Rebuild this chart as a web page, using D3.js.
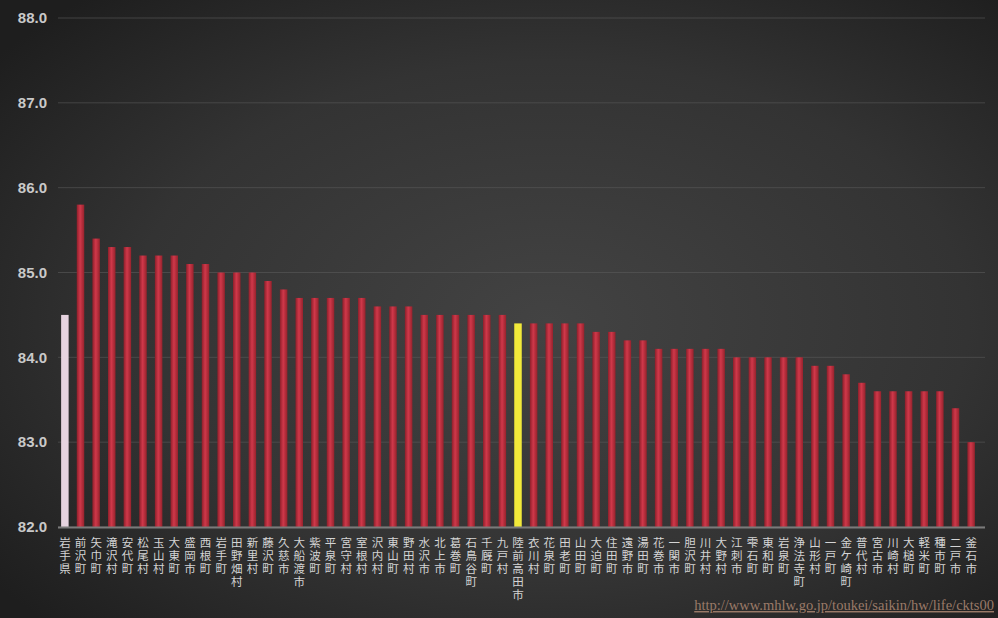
<!DOCTYPE html>
<html><head><meta charset="utf-8">
<script src="https://cdn.jsdelivr.net/npm/d3@7"></script>
<style>html,body{margin:0;padding:0;background:#2a2a2a;}svg{display:block;}</style>
</head><body>
<svg id="chart" width="998" height="618"></svg>
<script>
const categories = ["岩手県","前沢町","矢巾町","滝沢村","安代町","松尾村","玉山村","大東町","盛岡市","西根町",
"岩手町","田野畑村","新里村","藤沢町","久慈市","大船渡市","紫波町","平泉町","宮守村","室根村",
"沢内村","東山町","野田村","水沢市","北上市","葛巻町","石鳥谷町","千厩町","九戸村","陸前高田市",
"衣川村","花泉町","田老町","山田町","大迫町","住田町","遠野市","湯田町","花巻市","一関市",
"胆沢町","川井村","大野村","江刺市","雫石町","東和町","岩泉町","浄法寺町","山形村","一戸町",
"金ケ崎町","普代村","宮古市","川崎村","大槌町","軽米町","種市町","二戸市","釜石市"];
const values = [84.5,85.8,85.4,85.3,85.3,85.2,85.2,85.2,85.1,85.1,
85.0,85.0,85.0,84.9,84.8,84.7,84.7,84.7,84.7,84.7,
84.6,84.6,84.6,84.5,84.5,84.5,84.5,84.5,84.5,84.4,
84.4,84.4,84.4,84.4,84.3,84.3,84.2,84.2,84.1,84.1,
84.1,84.1,84.1,84.0,84.0,84.0,84.0,84.0,83.9,83.9,
83.8,83.7,83.6,83.6,83.6,83.6,83.6,83.4,83.0];
const highlightPref = "岩手県";
const highlightCity = "陸前高田市";
const yTicks = [82,83,84,85,86,87,88];
const sourceText = "http://www.mhlw.go.jp/toukei/saikin/hw/life/ckts00";

const svg = d3.select("#chart");
const W = 998, H = 618;
const defs = svg.append("defs");
const bg = defs.append("radialGradient").attr("id","bg").attr("cx","55%").attr("cy","52%").attr("r","70%");
bg.append("stop").attr("offset","0%").attr("stop-color","#434343");
bg.append("stop").attr("offset","60%").attr("stop-color","#333333");
bg.append("stop").attr("offset","100%").attr("stop-color","#1e1e1e");
svg.append("rect").attr("width",W).attr("height",H).attr("fill","url(#bg)");

const redG = defs.append("linearGradient").attr("id","red").attr("x1","0").attr("x2","1");
redG.append("stop").attr("offset","0%").attr("stop-color","#8e1f2a");
redG.append("stop").attr("offset","45%").attr("stop-color","#d0384a");
redG.append("stop").attr("offset","100%").attr("stop-color","#96222c");

const x = d3.scaleBand().domain(categories).range([58, 978]).paddingInner(0.52).paddingOuter(0.2);
const y = d3.scaleLinear().domain([82, 88]).range([527, 18]);

// gridlines
svg.append("g").selectAll("line").data(yTicks).join("line")
  .attr("x1", 58).attr("x2", 985)
  .attr("y1", d => y(d)).attr("y2", d => y(d))
  .attr("stroke", "#5a5a5a").attr("stroke-width", 1).attr("opacity", 0.6);

// y axis labels
const yAxis = d3.axisLeft(y).tickValues(yTicks).tickFormat(d3.format(".1f")).tickSize(0).tickPadding(0);
const gy = svg.append("g").attr("transform","translate(47,0)").call(yAxis);
gy.select(".domain").remove();
gy.selectAll("text").attr("fill","#c9c9c9").attr("font-family","Liberation Sans, Arial, sans-serif")
  .attr("font-size", 15).attr("font-weight","bold");

// bars
svg.append("g").selectAll("rect").data(categories).join("rect")
  .attr("x", d => x(d)).attr("width", x.bandwidth())
  .attr("y", (d,i) => y(values[i])).attr("height", (d,i) => y(82) - y(values[i]))
  .attr("fill", d => d === highlightPref ? "#e6d3df" : d === highlightCity ? "#f2ea3a" : "url(#red)");

// baseline
svg.append("line").attr("x1",58).attr("x2",985).attr("y1",y(82)+0.5).attr("y2",y(82)+0.5)
  .attr("stroke","#7a7a7a").attr("stroke-width",2);

// x labels (vertically stacked characters)
const lab = svg.append("g").selectAll("text").data(categories).join("text")
  .attr("x", d => x(d) + x.bandwidth()/2).attr("y", 547)
  .attr("text-anchor","middle").attr("fill","#d4d4d4")
  .attr("font-family","Noto Sans CJK JP, sans-serif").attr("font-size", 11.5);
lab.each(function(d){
  const t = d3.select(this);
  Array.from(d).forEach((c, k) => {
    t.append("tspan").attr("x", x(d) + x.bandwidth()/2).attr("dy", k === 0 ? 0 : 13).text(c);
  });
});

// source watermark
svg.append("text").attr("x", 994).attr("y", 610).attr("text-anchor","end")
  .attr("fill","#9a7a68").attr("font-family","Liberation Serif, serif").attr("font-size", 14.5)
  .attr("text-decoration","underline").text(sourceText);
</script>
</body></html>
